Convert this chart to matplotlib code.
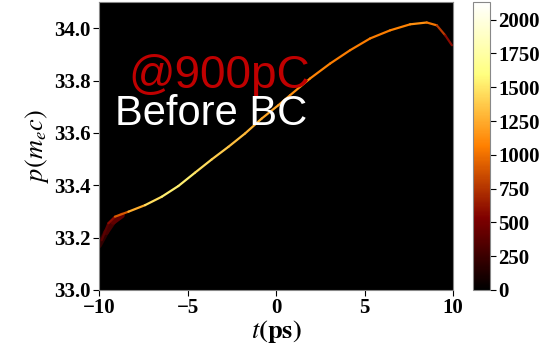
import numpy as np
import matplotlib
matplotlib.use("Agg")
import matplotlib.pyplot as plt
from matplotlib.collections import LineCollection
from matplotlib.colors import Normalize

# ridge of the (t, p) phase-space density
t_pts = [-9.85, -9.47, -9.10, -8.34, -7.40, -6.46, -5.52, -4.58, -3.63, -2.69,
         -1.75, -0.81, 0.13, 0.79, 1.92, 3.05, 4.18, 5.31, 6.44, 7.57,
         8.51, 9.08, 9.55, 9.93]
p_pts = [33.19, 33.255, 33.28, 33.299, 33.324, 33.356, 33.397, 33.448, 33.499, 33.547,
         33.598, 33.655, 33.706, 33.744, 33.808, 33.865, 33.916, 33.961, 33.992, 34.015,
         34.022, 34.011, 33.973, 33.935]
counts = [300, 450, 700, 1100, 1400, 1500, 1550, 1500, 1400, 1350,
          1300, 1250, 1200, 1150, 1100, 1050, 1050, 1050, 1050, 1100,
          1150, 900, 650, 500]

# faint spread at the bunch head
tail_t = [-10.0, -9.6, -9.2, -8.7]
tail_p = [33.17, 33.22, 33.26, 33.285]
tail_counts = [150, 250, 350, 450]

cbar_ticks = [0, 250, 500, 750, 1000, 1250, 1500, 1750, 2000]
vmax = 2130

plt.rcParams["font.family"] = "Liberation Serif"
plt.rcParams["mathtext.fontset"] = "stix"

fig = plt.figure(figsize=(5.44, 3.46), dpi=100)
ax = fig.add_axes([0.182, 0.162, 0.651, 0.832])
cax = fig.add_axes([0.870, 0.162, 0.031, 0.832])

ax.set_facecolor("black")
norm = Normalize(0, vmax)


def ridge(t, p, c, lw):
    pts = np.column_stack([t, p]).reshape(-1, 1, 2)
    segs = np.concatenate([pts[:-1], pts[1:]], axis=1)
    vals = (np.array(c[:-1]) + np.array(c[1:])) / 2
    lc = LineCollection(segs, cmap="afmhot", norm=norm, linewidths=lw,
                        capstyle="round", joinstyle="round")
    lc.set_array(vals)
    ax.add_collection(lc)
    return lc


ridge(tail_t, tail_p, tail_counts, 4)
lc = ridge(t_pts, p_pts, counts, 1.6)

ax.set_xlim(-10, 10)
ax.set_ylim(33.0, 34.1)
ax.set_xticks([-10, -5, 0, 5, 10])
ax.set_yticks([33.0, 33.2, 33.4, 33.6, 33.8, 34.0])
ax.yaxis.set_major_formatter(plt.FormatStrFormatter("%.1f"))
ax.tick_params(labelsize=15, length=4, pad=2)
for s in ax.spines.values():
    s.set_color("#888888")

ax.set_xlabel(r"$t\mathbf{(ps)}$", fontsize=19, labelpad=0)
ax.set_ylabel("$p(m_ec)$", fontsize=19, labelpad=2)

ax.text(-8.36, 33.77, "@900pC", color="#c00000", fontsize=33,
        family="Liberation Sans", va="baseline", zorder=5)
ax.text(-9.1, 33.63, "Before BC", color="white", fontsize=30,
        family="Liberation Sans", va="baseline", zorder=5)

cb = fig.colorbar(lc, cax=cax)
cb.set_ticks(cbar_ticks)
cb.ax.tick_params(labelsize=15, length=4, pad=2)
cb.outline.set_edgecolor("#888888")

for lbl in ax.get_xticklabels() + ax.get_yticklabels() + cb.ax.get_yticklabels():
    lbl.set_fontweight("bold")

fig.savefig("out.png", dpi=100)
